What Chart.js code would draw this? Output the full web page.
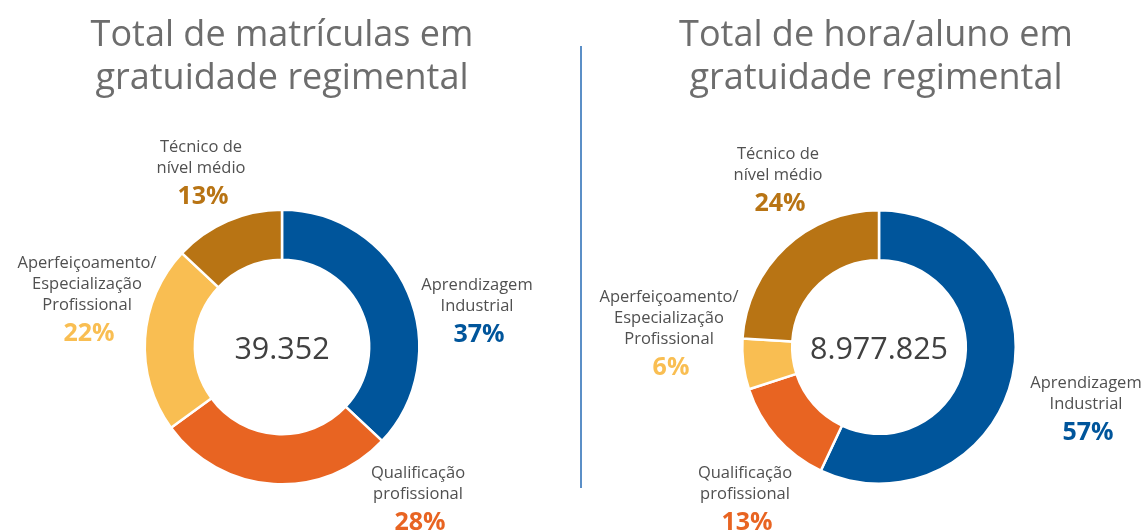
<!DOCTYPE html>
<html>
<head>
<meta charset="utf-8">
<script src="https://cdn.jsdelivr.net/npm/chart.js@4.4.1/dist/chart.umd.min.js"></script>
<style>
  html, body { margin: 0; padding: 0; background: #ffffff; }
  #wrap { position: relative; width: 1147px; height: 531px; overflow: hidden; }
  #c1 { position: absolute; left: 0; top: 0; }
  #c2 { position: absolute; left: 573px; top: 0; }
  #divider { position: absolute; left: 580px; top: 46px; width: 2px; height: 442px; background: #5b8fc7; }
</style>
</head>
<body>
<div id="wrap">
  <canvas id="c1" width="573" height="531"></canvas>
  <div id="divider"></div>
  <canvas id="c2" width="574" height="531"></canvas>
</div>
<script>
// ---- data ----
const categories = ['Aprendizagem Industrial', 'Qualificação profissional', 'Aperfeiçoamento/ Especialização Profissional', 'Técnico de nível médio'];
const categoryLines = [
  ['Aprendizagem', 'Industrial'],
  ['Qualificação', 'profissional'],
  ['Aperfeiçoamento/', 'Especialização', 'Profissional'],
  ['Técnico de', 'nível médio']
];
const matriculasPct = [37, 28, 22, 13];
const horaAlunoPct = [57, 13, 6, 24];
const titleMatriculas = ['Total de matrículas em', 'gratuidade regimental'];
const titleHoraAluno = ['Total de hora/aluno em', 'gratuidade regimental'];
const totalMatriculas = '39.352';
const totalHoraAluno = '8.977.825';

const colors = ['#00559b', '#e86422', '#f9be52', '#b87414'];
const FONT = '"Open Sans", "Noto Sans", sans-serif';

const overlayPlugin = {
  id: 'overlay',
  afterDatasetsDraw(chart, args, opts) {
    const ctx = chart.ctx;
    const arc = chart.getDatasetMeta(0).data[0];
    const cx = arc.x, cy = arc.y;
    ctx.save();
    ctx.textAlign = 'center';
    ctx.textBaseline = 'alphabetic';
    // title
    ctx.fillStyle = '#6d6d6d';
    ctx.font = '36px ' + FONT;
    opts.title.forEach((t, i) => ctx.fillText(t, cx + opts.titleDx, 46 + i * 43));
    // center total
    ctx.fillStyle = '#404040';
    ctx.font = '30.5px ' + FONT;
    ctx.fillText(opts.total, cx, cy + 12);
    // labels
    const data = chart.data.datasets[0].data;
    chart.data.labels.forEach((lbl, i) => {
      const [dx, dy] = opts.offsets[i];
      const lines = categoryLines[i];
      ctx.fillStyle = '#505050';
      ctx.font = '16.5px ' + FONT;
      lines.forEach((ln, j) => ctx.fillText(ln, cx + dx, cy + dy + j * 21));
      ctx.fillStyle = colors[i];
      ctx.font = 'bold 25px ' + FONT;
      ctx.fillText(data[i] + '%', cx + dx + 2, cy + dy + (lines.length - 1) * 21 + 31);
    });
    ctx.restore();
  }
};

function makeChart(id, values, title, total, padding, offsets, titleDx) {
  return new Chart(document.getElementById(id), {
    type: 'doughnut',
    data: {
      labels: categories,
      datasets: [{
        data: values,
        backgroundColor: colors,
        borderColor: '#ffffff',
        borderWidth: 2.5,
        hoverOffset: 0
      }]
    },
    options: {
      responsive: false,
      animation: false,
      cutout: '63.5%',
      rotation: 0,
      layout: { padding: padding },
      events: [],
      plugins: {
        legend: { display: false },
        tooltip: { enabled: false },
        title: { display: false },
        overlay: { title: title, total: total, offsets: offsets, titleDx: titleDx }
      }
    },
    plugins: [overlayPlugin]
  });
}

makeChart('c1', matriculasPct, titleMatriculas, totalMatriculas,
  { left: 143.5, right: 152.5, top: 208.5, bottom: 45.5 },
  [[195, -57], [136, 131], [-195, -79], [-81, -195]], 0);

makeChart('c2', horaAlunoPct, titleHoraAluno, totalHoraAluno,
  { left: 168, right: 130, top: 209, bottom: 46 },
  [[207, 41], [-134, 131], [-210, -45], [-101, -188]], -3);
</script>
</body>
</html>
